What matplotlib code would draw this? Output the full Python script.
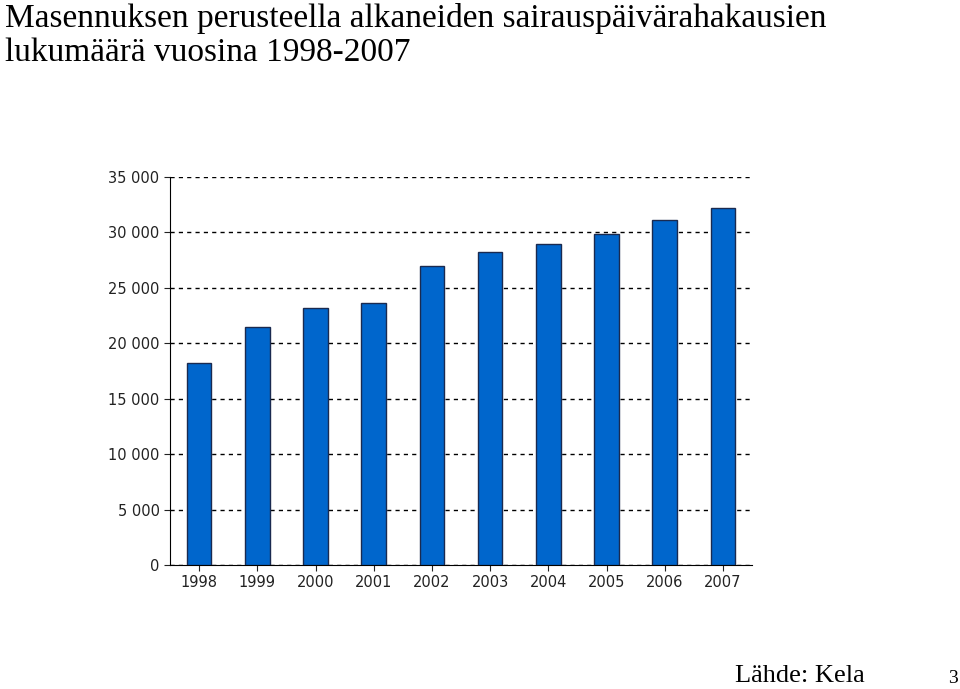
import matplotlib
matplotlib.use('Agg')
import matplotlib.pyplot as plt
from matplotlib.ticker import FuncFormatter

years = ['1998', '1999', '2000', '2001', '2002', '2003', '2004', '2005', '2006', '2007']
counts = [18200, 21500, 23200, 23600, 27000, 28200, 29000, 29900, 31100, 32200]

fig = plt.figure(figsize=(9.6, 6.89), dpi=100)
ax = fig.add_axes([170 / 960, 1 - 565 / 689, (752 - 170) / 960, (565 - 177) / 689])

ax.bar(range(len(years)), counts, width=0.42, color='#0066cc', edgecolor='#1a2a50', linewidth=1, zorder=3)
ax.set_xlim(-0.5, len(years) - 0.5)
ax.set_ylim(0, 35000)
ax.set_yticks(range(0, 35001, 5000))
ax.yaxis.set_major_formatter(FuncFormatter(lambda v, p: f'{int(v):,}'.replace(',', ' ')))
ax.set_xticks(range(len(years)))
ax.set_xticklabels(years)
ax.tick_params(labelsize=10.5, colors='#222222', length=4)
ax.grid(axis='y', linestyle=(0, (3, 3)), color='black', linewidth=1, zorder=0)
for s in ['top', 'right']:
    ax.spines[s].set_visible(False)

fig.text(0.005, 0.995, 'Masennuksen perusteella alkaneiden sairauspäivärahakausien\nlukumäärä vuosina 1998-2007',
         fontsize=24, family='Liberation Serif', va='top', ha='left', linespacing=1.15)
fig.text(735 / 960, 0.003, 'Lähde: Kela', fontsize=19, family='Liberation Serif', va='bottom')
fig.text(948 / 960, 0.003, '3', fontsize=14, family='Liberation Serif', va='bottom')

fig.savefig('out.png', dpi=100)
